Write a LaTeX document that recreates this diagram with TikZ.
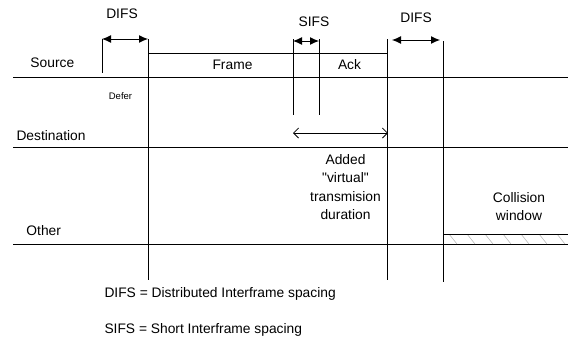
\documentclass[tikz,border=0pt]{standalone}
\usepackage{fontspec}
\setmainfont{Liberation Sans}[Ligatures=TeXOff]
\usetikzlibrary{arrows.meta}

\begin{document}
\begin{tikzpicture}[x=1pt,y=-1pt,line width=1pt,
    gap/.style={{Latex[length=9pt,width=8pt]}-{Latex[length=9pt,width=8pt]}},
    span/.style={{Straight Barb[length=5pt,width=10pt]}-{Straight Barb[length=5pt,width=10pt]},line width=.8pt}]

      \useasboundingbox (0,0) rectangle (568,341);

      % time lines
      \coordinate (s0) at (13,77);   \coordinate (s1) at (568,77);
      \coordinate (d0) at (13,147);  \coordinate (d1) at (568,147);
      \coordinate (o0) at (13,244);  \coordinate (o1) at (568,244);
      \draw (s0) -- (s1);
      \draw (d0) -- (d1);
      \draw (o0) -- (o1);

      % vertical marks
      \coordinate (a0) at (102,39);  \coordinate (a1) at (102,73);
      \coordinate (b0) at (148,39);  \coordinate (b1) at (148,280);
      \coordinate (c0) at (293,39);  \coordinate (c1) at (293,115);
      \coordinate (e0) at (319,39);  \coordinate (e1) at (319,115);
      \coordinate (f0) at (387,39);  \coordinate (f1) at (387,280);
      \coordinate (g0) at (443,41);  \coordinate (g1) at (443,282);
      \foreach \v in {a,b,c,e,f,g}
        \draw (\v0) -- (\v1);

      % frame box
      \coordinate (fr0) at (148,53); \coordinate (fr1) at (387,53);
      \draw (fr0) -- (fr1);

      % collision window
      \coordinate (cw0) at (443,234); \coordinate (cw1) at (568,234);
      \begin{scope}
        \clip (443,234) rectangle (568,244);
        \foreach \x in {449,467,...,575}
          \draw[gray!60,line width=.5pt] (\x,234) -- (\x+8,244);
      \end{scope}
      \draw (cw0) -- (cw1);

      % spacing arrows
      \coordinate (p0) at (102,39);  \coordinate (p1) at (148,39);
      \coordinate (q0) at (293,41);  \coordinate (q1) at (319,41);
      \coordinate (r0) at (392,40);  \coordinate (r1) at (440,40);
      \coordinate (v0) at (293,133); \coordinate (v1) at (388,133);
      \draw[gap] (p0) -- (p1);
      \draw[gap] (q0) -- (q1);
      \draw[gap] (r0) -- (r1);
      \draw[span] (v0) -- (v1);

      \begin{scope}[every node/.style={font=\fontsize{13.8}{18.3}\selectfont,inner sep=0pt}]
        \node[anchor=west] (src) at (30,62.5)  {Source};
        \node[anchor=west] (dst) at (16,135.5) {Destination};
        \node[anchor=west] (oth) at (26,230.5) {Other};
        \node (frame) at (232.5,65) {Frame};
        \node (ack)   at (349.5,65) {Ack};
        \node (difsa) at (122,14)   {DIFS};
        \node (sifs)  at (314,22)   {SIFS};
        \node (difsb) at (416,17.5) {DIFS};
        \node[font=\fontsize{9.5}{11}\selectfont] (defer) at (120.5,96) {Defer};
        \node[align=center,anchor=north] (virt) at (345.5,154)
          {Added\\"virtual"\\transmision\\duration};
        \node[align=center,anchor=north] (coll) at (519,192)
          {Collision\\window};
        \node[anchor=base west] (lgda) at (104,297.5) {DIFS = Distributed Interframe spacing};
        \node[anchor=base west] (lgdb) at (104,333)   {SIFS = Short Interframe spacing};
      \end{scope}

\end{tikzpicture}
\end{document}
